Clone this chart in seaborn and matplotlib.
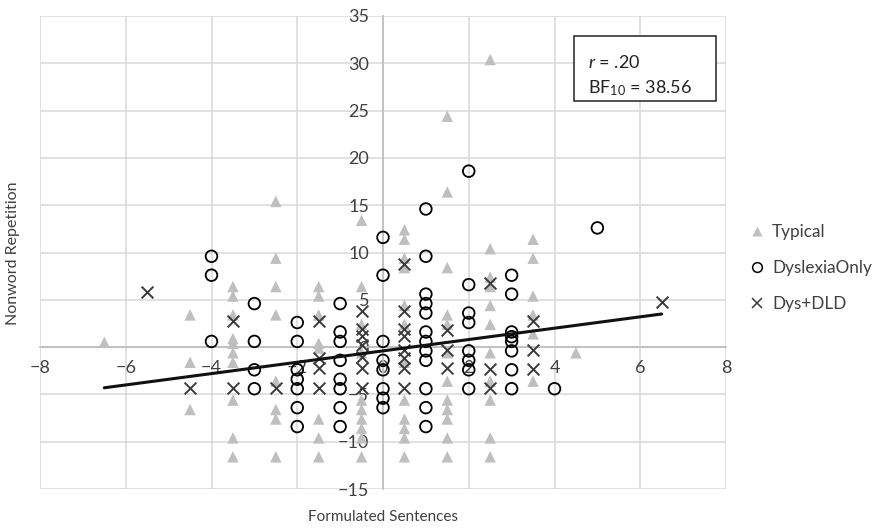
import numpy as np
import matplotlib
matplotlib.use("Agg")
import matplotlib.pyplot as plt
from matplotlib.patches import Rectangle
from matplotlib.lines import Line2D
import seaborn as sns

# values, one point per pair
typical_x = [-6.5,
             -4.5, -4.5, -4.5,
             -3.5, -3.5, -3.5, -3.5, -3.5, -3.5, -3.5, -3.5, -3.5, -3.5,
             -2.5, -2.5, -2.5, -2.5, -2.5, -2.5, -2.5, -2.5,
             -1.5, -1.5, -1.5, -1.5, -1.5, -1.5, -1.5, -1.5,
             -0.5, -0.5, -0.5, -0.5, -0.5, -0.5, -0.5, -0.5, -0.5, -0.5,
             0.5, 0.5, 0.5, 0.5, 0.5, 0.5, 0.5, 0.5, 0.5, 0.5, 0.5, 0.5,
             1.5, 1.5, 1.5, 1.5, 1.5, 1.5, 1.5, 1.5, 1.5, 1.5, 1.5, 1.5,
             2.5, 2.5, 2.5, 2.5, 2.5, 2.5, 2.5, 2.5, 2.5, 2.5, 2.5,
             3.5, 3.5, 3.5, 3.5, 3.5, 3.5,
             4.5]
typical_y = [0.5,
             3.4, -1.6, -6.6,
             6.4, 5.4, 3.4, 0.9, 0.4, -0.6, -1.6, -5.6, -9.6, -11.6,
             15.4, 9.4, 6.4, 3.4, -3.6, -6.6, -7.6, -11.6,
             6.4, 5.4, 3.4, 0.4, -0.1, -7.6, -9.6, -11.6,
             13.4, 6.4, 2.4, -0.6, -5.6, -6.6, -7.6, -8.6, -9.6, -11.6,
             12.4, 11.4, 9.4, 8.4, 4.4, 2.4, -1.6, -5.6, -7.6, -8.6, -9.6, -11.6,
             24.4, 16.4, 8.4, 3.4, 2.4, -0.6, -3.6, -5.6, -6.6, -7.6, -9.6, -11.6,
             30.4, 10.4, 7.4, 6.4, 4.4, 2.4, -0.6, -3.6, -5.6, -9.6, -11.6,
             11.4, 9.4, 5.4, 3.4, 1.4, -3.6,
             -0.6]

dyslexia_x = [-4, -4, -4,
              -3, -3, -3, -3,
              -2, -2, -2, -2, -2, -2, -2,
              -1, -1, -1, -1, -1, -1, -1, -1,
              0, 0, 0, 0, 0, 0, 0, 0,
              1, 1, 1, 1, 1, 1, 1, 1, 1, 1, 1, 1,
              2, 2, 2, 2, 2, 2, 2, 2,
              3, 3, 3, 3, 3, 3, 3, 3,
              4, 5]
dyslexia_y = [9.6, 7.6, 0.6,
              4.6, 0.6, -2.4, -4.4,
              2.6, 0.6, -2.4, -3.4, -4.4, -6.4, -8.4,
              4.6, 1.6, 0.6, -1.4, -3.4, -4.4, -6.4, -8.4,
              11.6, 7.6, 0.6, -1.4, -2.4, -4.4, -5.4, -6.4,
              14.6, 9.6, 5.6, 4.6, 3.6, 1.6, 0.6, -0.4, -1.4, -4.4, -6.4, -8.4,
              18.6, 6.6, 3.6, 2.6, -0.4, -1.4, -2.4, -4.4,
              7.6, 5.6, 1.6, 1.1, 0.6, -0.4, -2.4, -4.4,
              -4.4, 12.6]

dysdld_x = [-5.5, -4.5,
            -3.5, -3.5,
            -2.5,
            -1.5, -1.5, -1.5, -1.5,
            -0.5, -0.5, -0.5, -0.5, -0.5, -0.5, -0.5,
            0.5, 0.5, 0.5, 0.5, 0.5, 0.5, 0.5, 0.5,
            1.5, 1.5, 1.5,
            2.5, 2.5, 2.5,
            3.5, 3.5, 3.5,
            6.5]
dysdld_y = [5.8, -4.3,
            2.8, -4.3,
            -4.3,
            2.8, -1.2, -2.2, -4.3,
            3.8, 1.9, 1.2, 0.2, -1.0, -2.2, -4.3,
            8.8, 3.8, 1.9, 1.2, -0.3, -1.2, -2.2, -4.3,
            1.8, -0.3, -2.2,
            6.8, -2.3, -4.3,
            2.8, -0.3, -2.3,
            4.8]

# trend line as drawn on the chart (Excel linear trendline)
trend_slope = 0.60
trend_intercept = -0.40

group_names = ['Typical', 'DyslexiaOnly', 'Dys+DLD']

x_ticks = np.arange(-8, 9, 2)
y_ticks = np.arange(-15, 36, 5)


def main():
    sns.set_style("white")
    plt.rcParams['font.family'] = ['Lato', 'DejaVu Sans']
    plt.rcParams['mathtext.fontset'] = 'custom'
    plt.rcParams['mathtext.rm'] = 'Lato'
    plt.rcParams['mathtext.it'] = 'Lato:italic'
    plt.rcParams['axes.unicode_minus'] = True

    fig = plt.figure(figsize=(8.83, 5.31), dpi=100)
    ax = fig.add_axes([40/883, 42/531, 686/883, 473/531])

    sns.scatterplot(x=typical_x, y=typical_y, marker='^', s=68, color='#BFBFBF',
                    edgecolor='none', ax=ax, zorder=3, legend=False)
    sns.scatterplot(x=dyslexia_x, y=dyslexia_y, marker='o', s=70, facecolor='none',
                    edgecolor='black', linewidth=1.3, ax=ax, zorder=4, legend=False)
    sns.scatterplot(x=dysdld_x, y=dysdld_y, marker='x', s=72, color='#3a3a3a',
                    linewidth=1.4, ax=ax, zorder=5, legend=False)

    all_x = np.concatenate([typical_x, dyslexia_x, dysdld_x])
    line_x = np.array([all_x.min(), all_x.max()])
    sns.lineplot(x=line_x, y=trend_slope*line_x + trend_intercept, color='#111111',
                 linewidth=2.2, ax=ax, zorder=6)

    ax.set_xlim(-8, 8)
    ax.set_ylim(-15, 35)
    ax.set_xticks(x_ticks)
    ax.set_yticks(y_ticks)
    ax.set_axisbelow(True)
    ax.grid(True, color='#D9D9D9', linewidth=1.1)
    for s in ['top', 'right']:
        ax.spines[s].set_visible(False)
    ax.spines['left'].set_position('zero')
    ax.spines['bottom'].set_position('zero')
    for s in ['left', 'bottom']:
        ax.spines[s].set_color('#BFBFBF')
        ax.spines[s].set_linewidth(1.3)
    ax.tick_params(axis='x', length=0, pad=9, labelsize=13, labelcolor='#404040')
    ax.tick_params(axis='y', length=0, pad=10, labelsize=13, labelcolor='#404040')

    fig.text(383/883, 1 - 517/531, 'Formulated Sentences', ha='center', va='center',
             fontsize=11, color='#404040')
    fig.text(13/883, 1 - 253/531, 'Nonword Repetition', ha='center', va='center',
             rotation=90, fontsize=11.5, color='#404040')

    # stats box
    ax.add_patch(Rectangle((574/883, 1 - 101/531), 142/883, 65/531, transform=fig.transFigure,
                           facecolor='white', edgecolor='#222222', linewidth=1.1, zorder=7,
                           clip_on=False))
    fig.text(588/883, 1 - 62/531, r'$\mathit{r}$ = .20', ha='left', va='center',
             fontsize=13, color='#222222', zorder=8)
    fig.text(588/883, 1 - 88/531, r'BF$_{10}$ = 38.56', ha='left', va='center',
             fontsize=13, color='#222222', zorder=8)

    # smaller legend markers, like the Excel legend
    handles = [
        Line2D([], [], linestyle='none', marker='^', markersize=7, color='#BFBFBF',
               markeredgecolor='none'),
        Line2D([], [], linestyle='none', marker='o', markersize=7, markerfacecolor='none',
               markeredgecolor='black', markeredgewidth=1.1),
        Line2D([], [], linestyle='none', marker='x', markersize=7, color='#3a3a3a',
               markeredgewidth=1.1),
    ]
    ax.legend(handles, group_names, loc='center left', bbox_to_anchor=(742/883, 1 - 268/531),
              bbox_transform=fig.transFigure, frameon=False, fontsize=12.3,
              handlelength=0.7, handletextpad=0.55, labelspacing=1.15, borderpad=0,
              labelcolor='#404040')

    fig.savefig('out.png', dpi=100)


if __name__ == "__main__":
    main()
